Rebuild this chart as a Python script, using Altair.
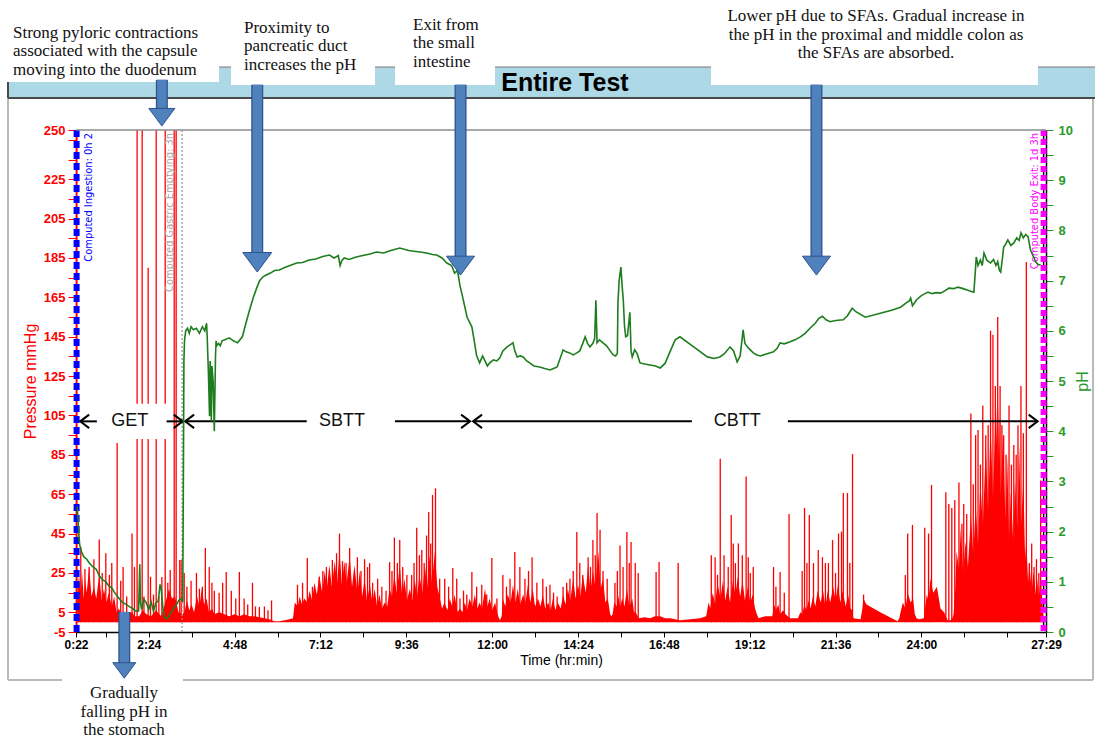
import altair as alt
import pandas as pd

# ---------------- layout (pixels of the 1100x738 page) ----------------
L, T, W, H = 76, 130, 970, 502
FULL_W, FULL_H = 1100, 738

# ---------------- data ----------------
# x axis: minutes since start of recording
time_ticks = [22, 72, 144, 216, 288, 360, 432, 504, 576, 648, 720, 792, 864, 936,
              1008, 1080, 1152, 1224, 1296, 1368, 1440, 1512, 1584, 1649]
time_label_values = [22, 144, 288, 432, 576, 720, 864, 1008, 1152, 1296, 1440, 1649]
time_labels = ["0:22", "2:24", "4:48", "7:12", "9:36", "12:00", "14:24", "16:48",
               "19:12", "21:36", "24:00", "27:29"]

press_ticks = [-5, 5, 15, 25, 35, 45, 55, 65, 75, 85, 95, 105, 115, 125, 135, 145, 155,
               165, 175, 185, 195, 205, 215, 225, 235, 245, 250]
press_label_values = [-5, 5, 25, 45, 65, 85, 105, 125, 145, 165, 185, 205, 225, 250]
press_labels = ["-5", "5", "25", "45", "65", "85", "105", "125", "145", "165", "185",
                "205", "225", "250"]

ph_ticks = [0, 0.5, 1, 1.5, 2, 2.5, 3, 3.5, 4, 4.5, 5, 5.5, 6, 6.5, 7, 7.5, 8, 8.5, 9, 9.5, 10]
ph_label_values = [0, 1, 2, 3, 4, 5, 6, 7, 8, 9, 10]
ph_labels = ["0", "1", "2", "3", "4", "5", "6", "7", "8", "9", "10"]

# pH trace
ph_t = [24, 26, 28, 31, 35, 40, 44, 50, 56, 61, 66, 72, 77, 82, 86, 92, 99, 106, 112, 116,
        122, 127, 129, 130, 132, 136, 140, 144, 148, 152, 156, 160, 163, 165, 168, 170, 174,
        178, 183, 187, 191, 195, 199, 201, 202, 203, 204, 206, 209, 212, 215, 219, 224, 229,
        234, 238, 241, 242, 244, 246, 247, 248, 249, 250, 252, 254, 256, 257, 258, 261, 264,
        267, 272, 279, 286, 293, 301, 307, 313, 319, 325, 330, 336, 341, 348, 355, 363, 372,
        381, 392, 402, 413, 424, 436, 447, 455, 462, 465, 468, 472, 480, 492, 503, 515, 526,
        538, 550, 565, 580, 592, 599, 610, 620, 627, 636, 644, 652, 657, 662, 666, 670, 678,
        686, 690, 694, 699, 704, 708, 712, 716, 722, 728, 733, 738, 745, 750, 755, 758, 762,
        767, 772, 778, 783, 790, 800, 808, 817, 823, 829, 834, 839, 844, 850, 856, 862, 867,
        872, 876, 880, 884, 889, 892, 894, 896, 900, 906, 912, 918, 923, 927, 930, 931, 933,
        936, 938, 940, 942, 944, 947, 951, 953, 955, 959, 963, 968, 976, 985, 994, 1002, 1010,
        1019, 1027, 1035, 1058, 1081, 1092, 1102, 1110, 1119, 1125, 1131, 1136, 1141, 1144,
        1148, 1153, 1158, 1164, 1170, 1180, 1192, 1198, 1203, 1210, 1220, 1228, 1237, 1245,
        1254, 1262, 1268, 1274, 1280, 1287, 1294, 1300, 1309, 1316, 1320, 1324, 1330, 1346,
        1371, 1390, 1405, 1414, 1420, 1422, 1425, 1432, 1440, 1451, 1458, 1465, 1472, 1480,
        1486, 1494, 1501, 1510, 1518, 1525, 1528, 1530, 1532, 1535, 1539, 1542, 1545, 1550,
        1556, 1561, 1565, 1568, 1571, 1573, 1576, 1578, 1581, 1585, 1590, 1595, 1600, 1604,
        1607, 1611, 1615, 1619, 1623, 1627, 1632, 1636, 1640]
ph_v = [2.5, 2.1, 1.75, 1.6, 1.5, 1.45, 1.38, 1.3, 1.25, 1.12, 1.05, 1.0, 0.92, 0.88, 0.8,
        0.7, 0.6, 0.55, 0.5, 0.48, 0.42, 0.42, 1.35, 0.6, 0.45, 0.65, 0.58, 0.45, 0.6, 0.42,
        0.58, 0.62, 0.95, 0.85, 0.45, 0.3, 0.26, 0.32, 0.42, 0.5, 0.55, 0.64, 0.66, 0.6, 2.8,
        5.4, 5.8, 6.0, 6.05, 5.95, 6.08, 6.02, 6.05, 5.95, 6.08, 6.0, 6.15, 5.9, 5.2, 4.3, 5.4,
        5.0, 4.2, 5.3, 5.0, 4.0, 5.5, 5.8, 5.7, 5.75, 5.7, 5.8, 5.82, 5.86, 5.8, 5.76, 5.88,
        6.15, 6.41, 6.65, 6.85, 7.0, 7.08, 7.11, 7.15, 7.2, 7.21, 7.26, 7.3, 7.35, 7.36, 7.41,
        7.43, 7.48, 7.51, 7.45, 7.5, 7.3, 7.4, 7.45, 7.42, 7.47, 7.5, 7.53, 7.57, 7.55, 7.6,
        7.65, 7.6, 7.58, 7.57, 7.55, 7.52, 7.51, 7.45, 7.35, 7.3, 7.15, 7.2, 6.9, 6.7, 6.27,
        6.08, 5.8, 5.5, 5.36, 5.5, 5.4, 5.3, 5.36, 5.42, 5.4, 5.46, 5.6, 5.68, 5.72, 5.76, 5.6,
        5.48, 5.5, 5.48, 5.4, 5.36, 5.3, 5.28, 5.25, 5.22, 5.25, 5.28, 5.45, 5.62, 5.58, 5.56,
        5.52, 5.56, 5.6, 5.75, 5.88, 5.75, 5.68, 5.75, 5.85, 6.61, 5.76, 5.82, 5.76, 5.7, 5.6,
        5.52, 5.5, 5.55, 6.55, 7.0, 7.27, 6.9, 6.61, 6.1, 5.88, 5.9, 6.37, 5.6, 5.48, 5.62,
        5.55, 5.36, 5.34, 5.32, 5.3, 5.26, 5.35, 5.6, 5.82, 5.88, 5.68, 5.48, 5.45, 5.48, 5.55,
        5.68, 5.6, 5.38, 5.5, 6.02, 5.75, 5.68, 5.62, 5.56, 5.52, 5.5, 5.54, 5.58, 5.65, 5.76,
        5.74, 5.78, 5.82, 5.88, 5.95, 6.06, 6.15, 6.25, 6.29, 6.22, 6.18, 6.2, 6.21, 6.22, 6.3,
        6.38, 6.45, 6.38, 6.27, 6.35, 6.41, 6.47, 6.55, 6.6, 6.65, 6.5, 6.62, 6.7, 6.77, 6.74,
        6.76, 6.75, 6.8, 6.85, 6.84, 6.87, 6.84, 6.81, 6.78, 6.77, 7.1, 7.47, 7.3, 7.41, 7.3,
        7.55, 7.4, 7.35, 7.42, 7.3, 7.38, 7.2, 7.17, 7.45, 7.67, 7.72, 7.81, 7.7, 7.75, 7.85,
        7.8, 7.95, 7.85, 7.92, 7.87, 7.61, 7.5, 7.37, 7.32, 7.31]

# pressure: dense envelope (solid red, ragged top) and individual contraction spikes
press_t = [24, 27, 30, 32, 35, 37, 40, 44, 48, 52, 56, 61, 65, 69, 73, 77, 82, 86, 90, 94, 99,
           103, 107, 111, 116, 120, 128, 134, 140, 148, 156, 165, 172, 178, 183, 188, 194, 200,
           204, 208, 212, 216, 220, 225, 229, 233, 237, 241, 245, 250, 254, 262, 271, 279, 288,
           296, 304, 313, 321, 330, 338, 346, 355, 363, 372, 380, 386,
           389, 394, 397, 401, 405, 410, 414, 418, 422, 426, 430, 435, 439, 443, 447, 451, 456,
           460, 464, 468, 472, 476, 481, 485, 489, 494, 498, 502, 506, 510, 515, 519, 523, 527,
           531, 535, 540, 544, 548, 552, 556, 560, 565, 569, 573, 577, 582, 586, 590, 594, 598,
           603, 607, 611, 615, 619, 624, 628, 631, 636, 640, 645, 649, 653, 657, 662, 666, 670,
           674, 678, 682, 687, 691, 695, 699, 703, 708, 712, 716, 720, 725, 729, 733, 736, 738,
           742, 746, 751, 755, 759, 763, 767, 772, 776, 780, 784, 788, 792, 797, 801, 805, 809,
           814, 818, 822, 826, 830, 835, 839, 843, 847, 851, 856, 860, 864, 868, 872, 877, 881,
           885, 889, 893, 898, 902, 906, 910, 914, 918, 920, 922, 925, 929, 931, 935, 938, 942,
           946, 950, 955, 958, 961, 964, 966,
           976, 985, 993, 1002, 1010, 1019, 1027, 1035, 1052, 1069, 1079, 1083, 1086, 1090, 1094,
           1098, 1103, 1107, 1111, 1115, 1119, 1124, 1128, 1132, 1136, 1140, 1144, 1149, 1153,
           1157, 1161, 1164, 1167, 1178, 1190, 1193, 1196, 1200, 1203, 1208, 1212, 1216, 1220,
           1233, 1237, 1240, 1244, 1247, 1251, 1254, 1258, 1262, 1266, 1271, 1275, 1279, 1283,
           1287, 1292, 1296, 1300, 1304, 1308, 1313, 1317, 1321, 1324, 1326, 1338, 1341, 1343,
           1346, 1348, 1371, 1400, 1403, 1405, 1409, 1413, 1417, 1422, 1426, 1429, 1432, 1436,
           1444, 1446, 1449, 1452, 1455, 1460, 1466, 1472, 1478, 1484, 1489, 1492, 1494, 1497,
           1499, 1503, 1506, 1510, 1514, 1518, 1523, 1527, 1531, 1535, 1539, 1543, 1548, 1552,
           1556, 1560, 1565, 1568, 1570, 1573, 1577, 1581, 1584, 1587, 1590, 1594, 1597, 1601,
           1604, 1607, 1611, 1614, 1616, 1619, 1621, 1625, 1628, 1632, 1634, 1637, 1640, 1643,
           1645]
press_v = [14, 24, 15, 26, 12, 22, 15, 28, 13, 18, 12, 24, 11, 17, 10, 15, 8, 13, 5, 7, 3,
           4, 4, 5, 5, 3, 3, 6, 4, 3, 6, 3, 10, 17, 12, 13, 5, 4,
           5, 11, 6, 9, 5, 13, 8, 17, 9, 12, 5, 7, 4, 5, 4, 3, 4,
           3, 4, 3, 3, 2.5, 2, 1.5, 0.5, 0.5, 1, 1.5, 2,
           10, 8, 13, 9, 12, 10, 16, 11, 20, 14, 24, 15, 26, 18, 29, 18, 31,
           20, 36, 19, 31, 20, 34, 18, 29, 15, 26, 13, 22, 11, 19, 10, 17,
           8, 14, 7, 10, 8, 17, 13, 24, 15, 29, 14, 22, 11, 17, 11, 22, 13,
           24, 15, 29, 18, 34, 20, 36, 18, 14, 7, 10, 6, 12, 8, 14, 5, 7,
           5, 10, 6, 12, 8, 14, 7, 10, 7, 17, 8, 12, 6, 10, 4, 1, 3, 12,
           8, 14, 10, 19, 10, 17, 9, 14, 10, 19, 10, 17, 8, 12, 8, 14, 7,
           10, 6, 12, 6, 10, 7, 14, 9, 17, 11, 22, 12, 19, 13, 24, 15, 29,
           16, 26, 18, 36, 17, 22, 10, 12, 4, 3, 4, 10, 8, 14, 8, 12, 8,
           17, 8, 12, 5, 5, 3, 2,
           2.5, 2, 3, 3, 2, 2, 1.5, 1, 1.5, 2, 3, 10, 7, 15, 9,
           20, 12, 21, 11, 18, 10, 21, 14, 23, 13, 21, 11, 18, 10,
           14, 7, 4, 2, 3, 3, 9, 6, 9, 4, 6, 4, 3, 2,
           2, 5, 4, 9, 6, 11, 7, 13, 8, 16, 10, 16, 8, 16,
           10, 18, 11, 19, 10, 16, 8, 14, 7, 6, 2, 1.5, 7, 12,
           10, 9, 5, 0.5, 2, 5, 10, 7, 15, 10, 12, 4, 2, 1.5,
           2, 7, 14, 11, 22, 15, 18, 7, 5, 1, 1, 2, 4, 18,
           36, 27, 48, 25, 41, 28, 54, 34, 60, 39, 72, 48, 90, 56,
           100, 64, 112, 76, 110, 64, 96, 52, 84, 43, 66, 41, 72, 48,
           90, 49, 72, 32, 42, 20, 30, 16, 26, 14, 22, 13, 24, 10,
           3]

spike_t = [30, 37, 44, 52, 61, 66, 72, 78, 82, 91, 97, 101, 107, 116, 120, 124.5, 133, 136,
           143, 147, 152, 156.5, 161, 166, 171.6, 176, 180, 186.7, 190, 196,
           198.5, 203.5, 208, 215, 224, 229, 234, 239, 245.5, 250, 254, 262, 268, 274, 282.5,
           290, 296, 304, 310, 318, 323, 329.5, 338, 344, 350,
           393.5, 402, 410, 418.6, 430, 436, 442, 447, 452, 459, 464, 469, 475, 481, 489, 494,
           500, 506, 511, 514.5, 519.5, 528, 535, 542, 548, 552, 556, 561, 565, 570, 577, 585,
           589, 593.5, 598, 602, 606, 610, 613.6, 617, 620, 625, 632, 640.5, 647, 654, 660.6,
           666, 672, 677.5, 686, 694, 702.6, 711, 719.5, 728, 738, 744, 750, 758, 766.5, 775,
           781, 787, 795, 805, 811, 817, 823, 829, 839, 845, 850.5, 856, 862, 867, 872, 881,
           885, 889, 893, 896, 901, 906, 913, 926, 930, 934.5, 939.6, 946, 950, 953, 960, 965,
           995, 1000, 1032,
           1087.6, 1094, 1098, 1102.6, 1109, 1116, 1121, 1124.5, 1128, 1133, 1139.6, 1146,
           1149.6, 1153, 1158, 1192, 1196, 1203, 1210, 1218, 1240, 1244, 1248, 1252, 1259,
           1267, 1274, 1279, 1284, 1291, 1296, 1301, 1306, 1309, 1316, 1320, 1324.5, 1343,
           1413, 1417, 1425, 1445.6, 1452, 1457, 1481, 1486, 1491, 1496, 1503, 1508, 1511,
           1516, 1523, 1527, 1531, 1535, 1539, 1543, 1548, 1552, 1556, 1560, 1564, 1568, 1572,
           1575, 1578, 1582, 1587, 1591, 1595, 1599, 1602, 1607, 1611, 1616, 1621, 1625, 1629,
           1633, 1637, 1640]
spike_v = [38, 27, 28, 32, 42, 25, 35, 24, 30, 91, 21, 28, 13, 45, 28, 250, 250, 13,
           180, 23, 14, 250, 13, 23, 250, 20, 26.5, 250, 250, 31.6,
           31.6, 25, 18, 21, 25, 17, 18, 37.7, 28, 20, 16, 15, 20, 25.5, 16,
           12, 25.5, 12, 9, 20, 8, 7.7, 8, 6, 11,
           19, 20, 32.6, 18, 23, 26, 28, 22, 31.6, 35, 45, 31, 30, 37.7, 24, 33,
           26, 32, 28, 30, 20, 22, 18, 16, 30.5, 26, 43, 30, 41.7, 28, 24, 24,
           30, 48, 34, 36.6, 30, 44, 56, 40, 64.6, 68, 22, 22, 18, 27.5, 22,
           12, 16, 14, 25.5, 18, 19, 14, 32.6, 12, 24, 18, 22, 35.6, 28, 22,
           26, 33, 20, 22, 18, 19, 15, 13, 18, 20, 22, 26, 45.8, 30, 24, 33,
           28, 41.7, 34, 55.5, 47, 26, 22, 20, 26, 39, 28, 45.8, 30, 40.7, 30, 25,
           25.5, 30.5, 30,
           34, 33, 24, 83, 34, 28, 54.4, 40, 30, 40, 34, 74,
           33, 25, 28, 28, 18, 25.5, 15, 55, 26, 58, 30, 54.4, 30,
           36.6, 33, 30, 30, 41.7, 25, 45, 46, 65.6, 65.6, 30, 85.4, 14,
           24, 45, 49.4, 48, 45, 69.7, 66, 60, 58, 62, 71, 50, 60,
           55, 106, 70, 95, 97.6, 80, 110, 95, 100, 148, 146, 120, 155, 120,
           100, 95, 85, 110, 80, 90, 85, 100, 120, 96, 183, 30, 40, 28,
           32, 25, 72]

# computed events (minutes)
event_names = ["Computed Ingestion: 0h 2", "Computed Gastric Emptying: 3h", "Computed Body Exit: 1d 3h"]
event_t = [23, 200, 1645]

# transit periods (arrow row at 102 mmHg)
period_names = ["GET", "SBTT", "CBTT"]
period_label_t = [112, 468, 1131]
period_left_tip = [29, 205, 688]
period_right_tip = [201, 683, 1635]
period_seg_start = [29, 174, 205, 557, 688, 1216]
period_seg_end = [57, 201, 409, 683, 1055, 1635]
period_p = 102

# annotation arrows (time, tip pH, tail pH, head width px)
arrow_t = [166, 326, 667, 1264, 103]
arrow_tip = [10.08, 7.17, 7.11, 7.11, -0.92]
arrow_tail = [11.0, 10.9, 10.9, 10.9, 0.4]
arrow_head = [26, 29, 28, 28, 23]

box_texts = [
    ["Strong pyloric contractions", "associated with the capsule", "moving into the duodenum"],
    ["Proximity to", "pancreatic duct", "increases the pH"],
    ["Exit from", "the small", "intestine"],
    ["Lower pH due to SFAs. Gradual increase in", "the pH in the proximal and middle colon as",
     "the SFAs are absorbed."],
    ["Gradually", "falling pH in", "the stomach"],
]

# ---------------- helpers ----------------
def label_expr(values, labels):
    v = "[" + ",".join(str(x) for x in values) + "]"
    lab = "[" + ",".join("'" + s + "'" for s in labels) + "]"
    return f"indexof({v}, datum.value) >= 0 ? {lab}[indexof({v}, datum.value)] : ''"

SANS = "Liberation Sans"
SERIF = "Liberation Serif"
NARROW = "'Liberation Sans Narrow', 'DejaVu Sans Condensed', 'Liberation Sans'"
RED = "#ff0000"
GREEN = "#2a9a2a"

x_scale = alt.Scale(domain=[22, 1649], nice=False, zero=False)
x_axis = alt.Axis(values=time_ticks, labelExpr=label_expr(time_label_values, time_labels),
                  title="Time (hr:min)", grid=False, tickSize=5, tickColor="#000",
                  domainColor="#000", domainWidth=1.5, labelFont=SANS, labelFontSize=12,
                  labelFontWeight="bold", labelColor="#000", labelPadding=2,
                  labelOverlap=False, labelFlush=False, titleFont=SANS, titleFontSize=14,
                  titleFontWeight="normal", titleColor="#000", titlePadding=3)
p_scale = alt.Scale(domain=[-5, 250], nice=False, zero=False)
p_axis = alt.Axis(orient="left", values=press_ticks,
                  labelExpr=label_expr(press_label_values, press_labels),
                  title="Pressure mmHg", grid=False, tickSize=8, tickColor=RED,
                  domainColor="#000", labelColor=RED, labelFont=SANS, labelFontSize=13,
                  labelFontWeight="bold", labelPadding=3, labelOverlap=False, labelFlush=False,
                  titleColor=RED, titleFont=SANS, titleFontSize=16, titleFontWeight="normal",
                  titlePadding=5)
h_scale = alt.Scale(domain=[0, 10], nice=False, zero=False)
h_axis = alt.Axis(orient="right", values=ph_ticks,
                  labelExpr=label_expr(ph_label_values, ph_labels),
                  title="pH", titleAngle=270, grid=False, tickSize=7, tickColor=GREEN,
                  domainColor="#000", domainWidth=1.5, labelColor=GREEN, labelFont=SANS,
                  labelFontSize=13, labelFontWeight="bold", labelPadding=5,
                  labelOverlap=False, labelFlush=False, titleColor=GREEN, titleFont=SANS,
                  titleFontSize=16, titleFontWeight="normal", titlePadding=18)


def X(f="t"):
    return alt.X(f"{f}:Q", scale=x_scale, axis=x_axis)


def YP(f):
    return alt.Y(f"{f}:Q", scale=p_scale, axis=p_axis)


def YH(f):
    return alt.Y(f"{f}:Q", scale=h_scale, axis=h_axis)


one = pd.DataFrame({"k": [0]})


def px(v):
    return alt.value(v - L)


def py(v):
    return alt.value(v - T)


def prect(x0, y0, x1, y1, **kw):
    return alt.Chart(one).mark_rect(**kw).encode(x=px(x0), x2=px(x1), y=py(y0), y2=py(y1))


def pline(x0, y0, x1, y1, **kw):
    return alt.Chart(one).mark_rule(**kw).encode(x=px(x0), x2=px(x1), y=py(y0), y2=py(y1))


def ptext(x, y, text, **kw):
    return alt.Chart(one).mark_text(text=text, **kw).encode(x=px(x), y=py(y))


# ---------------- decoration (frame, band, boxes) ----------------
deco = [
    pline(8, 98, 8, 680, color="#b9b9b9", strokeWidth=2),
    pline(1093, 98, 1093, 680, color="#b9b9b9", strokeWidth=2),
    pline(8, 680, 1093, 680, color="#b9b9b9", strokeWidth=2),
    prect(8, 67, 1095, 98, color="#add8e6"),
    pline(8, 67, 1095, 67, color="#7a7a7a", strokeWidth=1.2),
    pline(8, 98, 1095, 98, color="#4a4a4a", strokeWidth=2),
    pline(8, 67, 8, 98, color="#4a4a4a", strokeWidth=2),
    prect(0, 0, 219, 82, color="white"),
    prect(231, 0, 375, 85, color="white"),
    prect(395, 0, 495, 85, color="white"),
    prect(711, 0, 1038, 85, color="white"),
    prect(62, 671, 183, 738, color="white"),
    ptext(565, 91, "Entire Test", font=SANS, fontSize=25, fontWeight="bold", align="center",
          baseline="alphabetic", color="#000"),
]
box_pos = [(13, 37.5, "left"), (244, 32.5, "left"), (413, 29.5, "left"),
           (876, 21, "center"), (124, 698, "center")]
for lines, (bx, by, al) in zip(box_texts, box_pos):
    deco.append(ptext(bx, by, lines, font=SERIF, fontSize=17, lineHeight=18.7, align=al,
                      baseline="alphabetic", color="#111"))

# ---------------- pressure layers ----------------
press_df = pd.DataFrame({"t": press_t, "p": press_v})
spike_df = pd.DataFrame({"t": spike_t, "p": spike_v})

area = alt.Chart(press_df).mark_area(color=RED, interpolate="linear", opacity=1).encode(
    x=X(), y=YP("p"), y2=alt.datum(0))
spikes = alt.Chart(spike_df).mark_rule(color=RED, strokeWidth=1.3).encode(
    x=X(), y=YP("p"), y2=alt.datum(0))

getbox = alt.Chart(pd.DataFrame({"t": [31], "t2": [183], "p": [111], "p2": [93]})).mark_rect(
    color="white").encode(x=X(), x2=alt.X2("t2"), y=YP("p"), y2=alt.Y2("p2"))


def ev(i):
    return pd.DataFrame({"t": [event_t[i]], "name": [event_names[i]]})


events = [
    alt.Chart(ev(0)).mark_rule(color=RED, strokeWidth=2).encode(x=X()),
    alt.Chart(ev(0)).mark_rule(color="#0000ff", strokeWidth=6, strokeDash=[7, 4]).encode(x=X()),
    alt.Chart(ev(1)).mark_rule(color="#9a9a9a", strokeWidth=1.3, strokeDash=[2, 2]).encode(x=X()),
    alt.Chart(ev(2)).mark_rule(color="#000", strokeWidth=1.5, strokeDash=[3, 3]).encode(x=X()),
    alt.Chart(ev(2)).mark_rule(color="#ff00ff", strokeWidth=6, strokeDash=[6, 3]).encode(x=X()),
]
ev_style = [("#0000ff", 12), ("#a8a8a8", -12), ("#ff00ff", -9)]
for i, (col, off) in enumerate(ev_style):
    events.append(alt.Chart(ev(i)).mark_text(angle=270, align="right", baseline="middle",
                                             font=NARROW, fontSize=11, color=col,
                                             xOffset=off).encode(x=X(), y=alt.value(3),
                                                                 text="name:N"))

top_border = pline(L, T, L + W, T, color="#8c8c8c", strokeWidth=1.5)

seg_df = pd.DataFrame({"t": period_seg_start, "t2": period_seg_end,
                       "p": [period_p] * len(period_seg_start)})
segs = alt.Chart(seg_df).mark_rule(color="#000", strokeWidth=2).encode(
    x=X(), x2=alt.X2("t2"), y=YP("p"))
lh = alt.Chart(pd.DataFrame({"t": period_left_tip, "p": [period_p] * 3})).mark_point(
    shape="M1,-0.75 L0,0 L1,0.75", filled=False, color="#000", strokeWidth=2, size=324,
    opacity=1).encode(x=X(), y=YP("p"))
rh = alt.Chart(pd.DataFrame({"t": period_right_tip, "p": [period_p] * 3})).mark_point(
    shape="M-1,-0.75 L0,0 L-1,0.75", filled=False, color="#000", strokeWidth=2, size=324,
    opacity=1).encode(x=X(), y=YP("p"))
plabels = alt.Chart(pd.DataFrame({"t": period_label_t, "p": [period_p] * 3,
                                  "name": period_names})).mark_text(
    font=SANS, fontSize=18, color="#111", baseline="middle", align="center").encode(
    x=X(), y=YP("p"), text="name:N")

pressure_group = alt.layer(*deco, area, spikes, getbox, *events, top_border, segs, lh, rh,
                           plabels)

# ---------------- pH layers ----------------
ph_df = pd.DataFrame({"t": ph_t, "ph": ph_v})
ph_line = alt.Chart(ph_df).mark_line(color="#1e7d1e", strokeWidth=1.6).encode(x=X(), y=YH("ph"))

arr_df = pd.DataFrame({"t": arrow_t, "tip": arrow_tip, "tail": arrow_tail,
                       "hs": [w * w for w in arrow_head]})
shaft_o = alt.Chart(arr_df).mark_rule(color="#2f528f", strokeWidth=12, yOffset=-14,
                                      strokeCap="butt").encode(x=X(), y=YH("tip"),
                                                               y2=alt.Y2("tail"))
shaft_f = alt.Chart(arr_df).mark_rule(color="#4f81bd", strokeWidth=9.5, yOffset=-14,
                                      strokeCap="butt").encode(x=X(), y=YH("tip"),
                                                               y2=alt.Y2("tail"))
heads = alt.Chart(arr_df).mark_point(shape="M-1,-1.35 L1,-1.35 L0,0 Z", filled=True,
                                     fill="#4f81bd", stroke="#2f528f", strokeWidth=1,
                                     opacity=1).encode(
    x=X(), y=YH("tip"), size=alt.Size("hs:Q", scale=None, legend=None))

ph_group = alt.layer(ph_line, shaft_o, shaft_f, heads)

chart = alt.layer(pressure_group, ph_group).resolve_scale(y="independent").properties(
    width=W, height=H,
    autosize=alt.AutoSizeParams(type="none"),
    padding={"left": L, "top": T, "right": FULL_W - L - W, "bottom": FULL_H - T - H},
).configure(font=SANS, background="white").configure_view(stroke=None)

chart.save("out.html", embed_options={"renderer": "svg", "actions": False})
